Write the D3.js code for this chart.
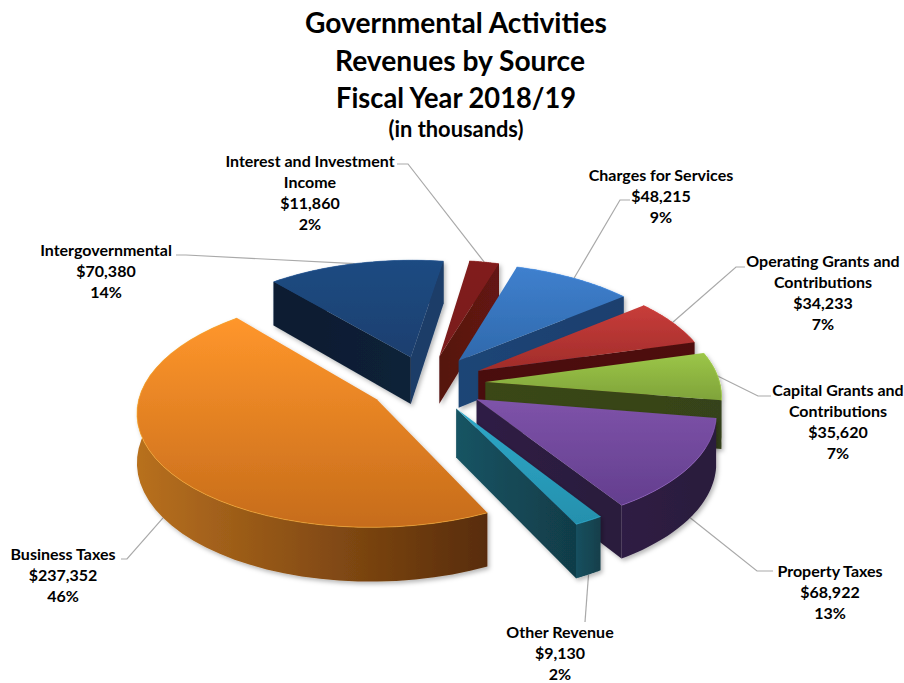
<!DOCTYPE html>
<html><head><meta charset="utf-8"><style>html,body{margin:0;background:#fff}svg{display:block}text{font-family:Lato,'Open Sans',sans-serif;font-weight:700;fill:#000;text-anchor:middle}</style>
<script src="https://cdn.jsdelivr.net/npm/d3@7"></script></head><body>
<script>
// Revenue figures, in slice order going clockwise
const categories=["Charges for Services","Operating Grants and Contributions","Capital Grants and Contributions","Property Taxes","Other Revenue","Business Taxes","Intergovernmental","Interest and Investment Income"];
const values=[48215,34233,35620,68922,9130,237352,70380,11860];
const titleLines=["Governmental Activities","Revenues by Source","Fiscal Year 2018/19"];
const subtitle="(in thousands)";
const labelLines=[["Charges for Services"],["Operating Grants and","Contributions"],["Capital Grants and","Contributions"],["Property Taxes"],["Other Revenue"],["Business Taxes"],["Intergovernmental"],["Interest and Investment","Income"]];

// Slice palette: top face, outer wall, and the two cut faces (each a left-to-right ramp)
const topColors=[["#3F80CE","#2F69AC"],["#C83D3A","#A02C2A"],["#9CC648","#7FA33A"],["#7E53A9","#633E8E"],["#2FA8C9","#2490AD"],["#FF962B","#C66C1B"],["#1F4B82","#1B3F6F"],["#811F1C","#7A1D1A"]];
const wallColors=[["#1F4677","#1C3F6C"],["#4D100E","#4A0F0D"],["#3C4A17","#36431A"],["#2F1F44","#2A1B3C"],["#17505F","#123F4B"],["#B8701F","#582C09"],["#1C3D6A","#183459"],["#5E1412","#4E100E"]];
const faceColors=[
  [["#1D4273","#1D4273"],["#1E4576","#1C3F6E"]],
  [["#4A0F0D","#4A0F0D"],["#4A0F0D","#4F100E"]],
  [["#3A4716","#3A4716"],["#3A4716","#36431A"]],
  [["#2E1E42","#2E1E42"],["#2F1F45","#2A1B3C"]],
  [["#155262","#155262"],["#155463","#113C48"]],
  [["#5A2E0A","#5A2E0A"],["#5A2E0A","#5A2E0A"]],
  [["#0A1C30","#0D2138"],["#1B3C68","#1B3C68"]],
  [["#5A1310","#5A1310"],["#551210","#641512"]]
];

const W=904,H=683,rad=Math.PI/180;
// Camera: a unit disc seen in perspective, with each slice pulled out along its bisector
const view={cx:426.6,cy:383.5,fx:234.6,fy:111.8,dist:9.84,firstAngle:286.9,explode:.251,depth:48};
const project=(X,Y,z)=>{const w=1-Y/view.dist;return [view.cx+view.fx*X/w,view.cy+(view.fy*Y+view.depth*z)/w];};

const svg=d3.select("body").append("svg").attr("width",W).attr("height",H);
const defs=svg.append("defs");
defs.append("filter").attr("id","soft").attr("x","-10%").attr("y","-10%").attr("width","125%").attr("height","125%")
  .append("feDropShadow").attr("dx",2).attr("dy",2.5).attr("stdDeviation",2).attr("flood-color","#000").attr("flood-opacity",.28);

function ramp(id,colors,x1,x2){
  const g=defs.append("linearGradient").attr("id",id).attr("gradientUnits","userSpaceOnUse")
    .attr("x1",x1).attr("x2",x2).attr("y1",0).attr("y2",0);
  g.selectAll("stop").data(colors).join("stop").attr("offset",(d,k)=>k).attr("stop-color",d=>d);
  return `url(#${id})`;
}

const pie=d3.pie().sort(null).startAngle((view.firstAngle+90)*rad).endAngle((view.firstAngle+450)*rad);
const arcs=pie(values).map((a,i)=>{
  const s=a.startAngle-Math.PI/2,e=a.endAngle-Math.PI/2,m=(s+e)/2;
  return {i,s,e,m,ox:view.explode*Math.cos(m),oy:view.explode*Math.sin(m)};
});
const line=d3.line();
const STEPS=40;
const rimAt=(a,t,z)=>project(a.ox+Math.cos(t),a.oy+Math.sin(t),z);
const rimPts=(a,z)=>d3.range(STEPS+1).map(k=>rimAt(a,a.s+(a.e-a.s)*k/STEPS,z));

// Leader lines run under the slices
const leaderLayer=svg.append("g").attr("fill","none").attr("stroke","#A9A9A9").attr("stroke-width",1.2);
const chart=svg.append("g");

// Painted from the far side of the pie to the near side
[7,6,0,1,2,3,4,5].forEach(i=>{
  const a=arcs[i],g=chart.append("g").attr("filter","url(#soft)");
  const apexT=project(a.ox,a.oy,0),apexB=project(a.ox,a.oy,1);
  const top=rimPts(a,0),bot=rimPts(a,1);
  const topGrad=defs.append("linearGradient").attr("id","top"+i).attr("x1",0).attr("x2",0).attr("y1",0).attr("y2",1);
  topGrad.selectAll("stop").data(topColors[i]).join("stop").attr("offset",(d,k)=>k).attr("stop-color",d=>d);
  const xs=d3.extent(bot,d=>d[0]);
  g.append("path").attr("d",line(top.concat(bot.slice().reverse()))+"Z").attr("fill",ramp("wall"+i,wallColors[i],xs[0],xs[1]));
  // Cut faces are skipped when they turn away from the viewer
  [[apexT,top[0],bot[0],apexB],[top[STEPS],apexT,apexB,bot[STEPS]]].forEach((quad,k)=>{
    if(d3.polygonArea(quad)>0){
      const qx=d3.extent(quad,d=>d[0]);
      g.append("path").attr("d",line(quad)+"Z").attr("fill",ramp(`face${i}-${k}`,faceColors[i][k],qx[0],qx[1]));
    }
  });
  g.append("path").attr("d",line([apexT,...top])+"Z").attr("fill",`url(#top${i})`);
  g.append("path").attr("d",line(top)).attr("fill","none")
    .attr("stroke",d3.color(topColors[i][0]).brighter(.5)).attr("stroke-width",1).attr("opacity",.6);
});

// Titles, fitted to their set widths
const titleRows=[{x:456,y:33,w:302},{x:460,y:71,w:250},{x:456,y:108,w:240}];
svg.append("g").selectAll("text").data(titleLines).join("text")
  .attr("x",(d,i)=>titleRows[i].x).attr("y",(d,i)=>titleRows[i].y)
  .attr("textLength",(d,i)=>titleRows[i].w).attr("lengthAdjust","spacingAndGlyphs")
  .attr("font-size",29).text(d=>d);
svg.append("text").attr("x",456).attr("y",137).attr("font-size",22)
  .attr("textLength",135).attr("lengthAdjust","spacingAndGlyphs").text(subtitle);

// Label placement: centre x, first baseline, then the leader's start and bend
const labelPlace=[
  {x:661,y:181,from:[630,200],bend:[620,200],z:0},
  {x:823,y:267,from:[745,267],bend:[736,267],z:0},
  {x:838,y:396,from:[771,396],bend:[758,396],z:0},
  {x:830,y:577,from:[773,571],bend:[757,571],z:1},
  {x:560,y:638,from:[585,622],bend:[585,622],z:1},
  {x:63,y:560,from:[121,559],bend:[127,559],z:1},
  {x:106,y:256,from:[176,255],bend:[186,255],z:0},
  {x:310,y:167,from:[397,164],bend:[408,164],z:0}
];
const money=d3.format("$,"),total=d3.sum(values);
labelPlace.forEach((l,i)=>{
  leaderLayer.append("path").attr("d",line([l.from,l.bend,rimAt(arcs[i],arcs[i].m,l.z)]));
  const rows=[...labelLines[i],money(values[i]),Math.round(values[i]/total*100)+"%"];
  svg.append("g").selectAll("text").data(rows).join("text")
    .attr("x",l.x).attr("y",(d,k)=>l.y+k*20.9).attr("font-size",16).text(d=>d);
});
</script></body></html>
